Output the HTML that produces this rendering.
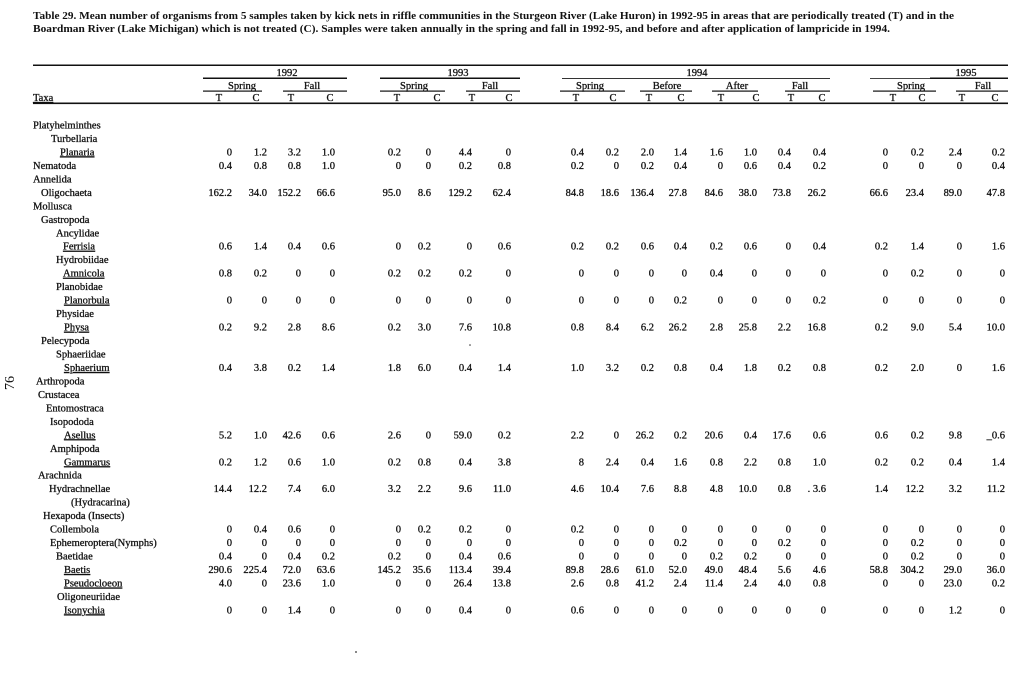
<!DOCTYPE html>
<html><head><meta charset="utf-8"><style>
html,body{margin:0;padding:0;background:#fff;}
svg{display:block;}
text{font-family:"Liberation Serif",serif;fill:#111;}
.b{font-size:10.5px;stroke:#111;stroke-width:0.3px;}
.t{font-size:10.5px;font-weight:bold;}
.u{text-decoration:underline;}
</style></head><body>
<svg width="1020" height="688" viewBox="0 0 1020 688" xmlns="http://www.w3.org/2000/svg">
<rect width="1020" height="688" fill="#fff"/>
<!-- title -->
<text class="t" x="33" y="19" textLength="921" lengthAdjust="spacingAndGlyphs">Table 29.  Mean number of organisms from 5 samples taken by kick nets in riffle communities in the Sturgeon River (Lake Huron) in 1992-95 in areas that are periodically treated (T) and in the</text>
<text class="t" x="33" y="32" textLength="857" lengthAdjust="spacingAndGlyphs">Boardman River (Lake Michigan) which is not treated (C).  Samples were taken annually in the spring and fall in 1992-95, and before and after application of lampricide in 1994.</text>

<!-- rules -->
<rect x="33" y="64.5" width="975" height="1.5" fill="#111"/>
<rect x="33" y="102.5" width="975" height="1.6" fill="#111"/>
<!-- year lines -->
<rect x="203" y="77.5" width="144" height="1.5" fill="#111"/>
<rect x="380" y="77.5" width="140" height="1.5" fill="#111"/>
<rect x="562" y="78" width="268" height="1" fill="#333"/>
<rect x="870" y="78" width="60" height="1" fill="#444"/>
<rect x="930" y="77.5" width="78" height="1.5" fill="#111"/>
<!-- season lines -->
<rect x="203" y="90.5" width="59" height="1.2" fill="#111"/>
<rect x="283" y="90.5" width="64" height="1.2" fill="#111"/>
<rect x="380" y="90.5" width="65" height="1.2" fill="#111"/>
<rect x="466" y="90.5" width="54" height="1.2" fill="#111"/>
<rect x="560" y="90.5" width="65" height="1.2" fill="#111"/>
<rect x="640" y="90.5" width="52" height="1.2" fill="#111"/>
<rect x="712" y="90.5" width="46" height="1.2" fill="#111"/>
<rect x="785" y="90.5" width="45" height="1.2" fill="#111"/>
<rect x="873" y="90.5" width="63" height="1.2" fill="#111"/>
<rect x="956" y="90.5" width="52" height="1.2" fill="#111"/>

<!-- header text -->
<g class="b" text-anchor="middle">
<text y="76"><tspan x="287">1992</tspan><tspan x="458">1993</tspan><tspan x="697">1994</tspan><tspan x="966">1995</tspan></text>
<text y="89"><tspan x="242">Spring</tspan><tspan x="312">Fall</tspan><tspan x="414">Spring</tspan><tspan x="490">Fall</tspan><tspan x="590">Spring</tspan><tspan x="667">Before</tspan><tspan x="737">After</tspan><tspan x="800">Fall</tspan><tspan x="911">Spring</tspan><tspan x="983">Fall</tspan></text>
<text y="101"><tspan x="219">T</tspan><tspan x="256">C</tspan><tspan x="291">T</tspan><tspan x="330">C</tspan><tspan x="397">T</tspan><tspan x="437">C</tspan><tspan x="472">T</tspan><tspan x="509">C</tspan><tspan x="576">T</tspan><tspan x="613">C</tspan><tspan x="649">T</tspan><tspan x="681">C</tspan><tspan x="721">T</tspan><tspan x="756">C</tspan><tspan x="791">T</tspan><tspan x="822">C</tspan><tspan x="893">T</tspan><tspan x="922">C</tspan><tspan x="962">T</tspan><tspan x="995">C</tspan></text>
</g>
<text class="b u" x="33" y="101">Taxa</text>

<!-- page number -->
<text x="14" y="383" font-size="14" text-anchor="middle" transform="rotate(-90 14 383)" style="font-family:'Liberation Serif',serif">76</text>

<!-- taxa names -->
<g class="b">
<text x="33" y="128.5">Platyhelminthes</text>
<text x="51" y="142">Turbellaria</text>
<text x="60" y="155.4" class="u">Planaria</text>
<text x="33" y="168.9">Nematoda</text>
<text x="33" y="182.4">Annelida</text>
<text x="41" y="195.9">Oligochaeta</text>
<text x="33" y="209.3">Mollusca</text>
<text x="41" y="222.8">Gastropoda</text>
<text x="56" y="236.3">Ancylidae</text>
<text x="63" y="249.7" class="u">Ferrisia</text>
<text x="56" y="263.2">Hydrobiidae</text>
<text x="63" y="276.7" class="u">Amnicola</text>
<text x="56" y="290.1">Planobidae</text>
<text x="64" y="303.6" class="u">Planorbula</text>
<text x="56" y="317.1">Physidae</text>
<text x="64" y="330.6" class="u">Physa</text>
<text x="41" y="344">Pelecypoda</text>
<text x="56" y="357.5">Sphaeriidae</text>
<text x="64" y="371" class="u">Sphaerium</text>
<text x="36" y="384.4">Arthropoda</text>
<text x="38" y="397.9">Crustacea</text>
<text x="46" y="411.4">Entomostraca</text>
<text x="50" y="424.8">Isopododa</text>
<text x="64" y="438.3" class="u">Asellus</text>
<text x="50" y="451.8">Amphipoda</text>
<text x="64" y="465.3" class="u">Gammarus</text>
<text x="38" y="478.7">Arachnida</text>
<text x="49" y="492.2">Hydrachnellae</text>
<text x="71" y="505.7">(Hydracarina)</text>
<text x="43" y="519.1">Hexapoda (Insects)</text>
<text x="50" y="532.6">Collembola</text>
<text x="50" y="546.1">Ephemeroptera(Nymphs)</text>
<text x="56" y="559.5">Baetidae</text>
<text x="64" y="573" class="u">Baetis</text>
<text x="64" y="586.5" class="u">Pseudocloeon</text>
<text x="57" y="600">Oligoneuriidae</text>
<text x="64" y="613.4" class="u">Isonychia</text>
</g>

<!-- data -->
<g class="b" text-anchor="end">
<text y="155.4"><tspan x="232">0</tspan><tspan x="267">1.2</tspan><tspan x="301">3.2</tspan><tspan x="335">1.0</tspan><tspan x="401">0.2</tspan><tspan x="431">0</tspan><tspan x="472">4.4</tspan><tspan x="511">0</tspan><tspan x="584">0.4</tspan><tspan x="619">0.2</tspan><tspan x="654">2.0</tspan><tspan x="687">1.4</tspan><tspan x="723">1.6</tspan><tspan x="757">1.0</tspan><tspan x="791">0.4</tspan><tspan x="826">0.4</tspan><tspan x="888">0</tspan><tspan x="924">0.2</tspan><tspan x="962">2.4</tspan><tspan x="1005">0.2</tspan></text>
<text y="168.9"><tspan x="232">0.4</tspan><tspan x="267">0.8</tspan><tspan x="301">0.8</tspan><tspan x="335">1.0</tspan><tspan x="401">0</tspan><tspan x="431">0</tspan><tspan x="472">0.2</tspan><tspan x="511">0.8</tspan><tspan x="584">0.2</tspan><tspan x="619">0</tspan><tspan x="654">0.2</tspan><tspan x="687">0.4</tspan><tspan x="723">0</tspan><tspan x="757">0.6</tspan><tspan x="791">0.4</tspan><tspan x="826">0.2</tspan><tspan x="888">0</tspan><tspan x="924">0</tspan><tspan x="962">0</tspan><tspan x="1005">0.4</tspan></text>
<text y="195.9"><tspan x="232">162.2</tspan><tspan x="267">34.0</tspan><tspan x="301">152.2</tspan><tspan x="335">66.6</tspan><tspan x="401">95.0</tspan><tspan x="431">8.6</tspan><tspan x="472">129.2</tspan><tspan x="511">62.4</tspan><tspan x="584">84.8</tspan><tspan x="619">18.6</tspan><tspan x="654">136.4</tspan><tspan x="687">27.8</tspan><tspan x="723">84.6</tspan><tspan x="757">38.0</tspan><tspan x="791">73.8</tspan><tspan x="826">26.2</tspan><tspan x="888">66.6</tspan><tspan x="924">23.4</tspan><tspan x="962">89.0</tspan><tspan x="1005">47.8</tspan></text>
<text y="249.7"><tspan x="232">0.6</tspan><tspan x="267">1.4</tspan><tspan x="301">0.4</tspan><tspan x="335">0.6</tspan><tspan x="401">0</tspan><tspan x="431">0.2</tspan><tspan x="472">0</tspan><tspan x="511">0.6</tspan><tspan x="584">0.2</tspan><tspan x="619">0.2</tspan><tspan x="654">0.6</tspan><tspan x="687">0.4</tspan><tspan x="723">0.2</tspan><tspan x="757">0.6</tspan><tspan x="791">0</tspan><tspan x="826">0.4</tspan><tspan x="888">0.2</tspan><tspan x="924">1.4</tspan><tspan x="962">0</tspan><tspan x="1005">1.6</tspan></text>
<text y="276.7"><tspan x="232">0.8</tspan><tspan x="267">0.2</tspan><tspan x="301">0</tspan><tspan x="335">0</tspan><tspan x="401">0.2</tspan><tspan x="431">0.2</tspan><tspan x="472">0.2</tspan><tspan x="511">0</tspan><tspan x="584">0</tspan><tspan x="619">0</tspan><tspan x="654">0</tspan><tspan x="687">0</tspan><tspan x="723">0.4</tspan><tspan x="757">0</tspan><tspan x="791">0</tspan><tspan x="826">0</tspan><tspan x="888">0</tspan><tspan x="924">0.2</tspan><tspan x="962">0</tspan><tspan x="1005">0</tspan></text>
<text y="303.6"><tspan x="232">0</tspan><tspan x="267">0</tspan><tspan x="301">0</tspan><tspan x="335">0</tspan><tspan x="401">0</tspan><tspan x="431">0</tspan><tspan x="472">0</tspan><tspan x="511">0</tspan><tspan x="584">0</tspan><tspan x="619">0</tspan><tspan x="654">0</tspan><tspan x="687">0.2</tspan><tspan x="723">0</tspan><tspan x="757">0</tspan><tspan x="791">0</tspan><tspan x="826">0.2</tspan><tspan x="888">0</tspan><tspan x="924">0</tspan><tspan x="962">0</tspan><tspan x="1005">0</tspan></text>
<text y="330.6"><tspan x="232">0.2</tspan><tspan x="267">9.2</tspan><tspan x="301">2.8</tspan><tspan x="335">8.6</tspan><tspan x="401">0.2</tspan><tspan x="431">3.0</tspan><tspan x="472">7.6</tspan><tspan x="511">10.8</tspan><tspan x="584">0.8</tspan><tspan x="619">8.4</tspan><tspan x="654">6.2</tspan><tspan x="687">26.2</tspan><tspan x="723">2.8</tspan><tspan x="757">25.8</tspan><tspan x="791">2.2</tspan><tspan x="826">16.8</tspan><tspan x="888">0.2</tspan><tspan x="924">9.0</tspan><tspan x="962">5.4</tspan><tspan x="1005">10.0</tspan></text>
<text y="371"><tspan x="232">0.4</tspan><tspan x="267">3.8</tspan><tspan x="301">0.2</tspan><tspan x="335">1.4</tspan><tspan x="401">1.8</tspan><tspan x="431">6.0</tspan><tspan x="472">0.4</tspan><tspan x="511">1.4</tspan><tspan x="584">1.0</tspan><tspan x="619">3.2</tspan><tspan x="654">0.2</tspan><tspan x="687">0.8</tspan><tspan x="723">0.4</tspan><tspan x="757">1.8</tspan><tspan x="791">0.2</tspan><tspan x="826">0.8</tspan><tspan x="888">0.2</tspan><tspan x="924">2.0</tspan><tspan x="962">0</tspan><tspan x="1005">1.6</tspan></text>
<text y="438.3"><tspan x="232">5.2</tspan><tspan x="267">1.0</tspan><tspan x="301">42.6</tspan><tspan x="335">0.6</tspan><tspan x="401">2.6</tspan><tspan x="431">0</tspan><tspan x="472">59.0</tspan><tspan x="511">0.2</tspan><tspan x="584">2.2</tspan><tspan x="619">0</tspan><tspan x="654">26.2</tspan><tspan x="687">0.2</tspan><tspan x="723">20.6</tspan><tspan x="757">0.4</tspan><tspan x="791">17.6</tspan><tspan x="826">0.6</tspan><tspan x="888">0.6</tspan><tspan x="924">0.2</tspan><tspan x="962">9.8</tspan><tspan x="1005">_0.6</tspan></text>
<text y="465.3"><tspan x="232">0.2</tspan><tspan x="267">1.2</tspan><tspan x="301">0.6</tspan><tspan x="335">1.0</tspan><tspan x="401">0.2</tspan><tspan x="431">0.8</tspan><tspan x="472">0.4</tspan><tspan x="511">3.8</tspan><tspan x="584">8</tspan><tspan x="619">2.4</tspan><tspan x="654">0.4</tspan><tspan x="687">1.6</tspan><tspan x="723">0.8</tspan><tspan x="757">2.2</tspan><tspan x="791">0.8</tspan><tspan x="826">1.0</tspan><tspan x="888">0.2</tspan><tspan x="924">0.2</tspan><tspan x="962">0.4</tspan><tspan x="1005">1.4</tspan></text>
<text y="492.2"><tspan x="232">14.4</tspan><tspan x="267">12.2</tspan><tspan x="301">7.4</tspan><tspan x="335">6.0</tspan><tspan x="401">3.2</tspan><tspan x="431">2.2</tspan><tspan x="472">9.6</tspan><tspan x="511">11.0</tspan><tspan x="584">4.6</tspan><tspan x="619">10.4</tspan><tspan x="654">7.6</tspan><tspan x="687">8.8</tspan><tspan x="723">4.8</tspan><tspan x="757">10.0</tspan><tspan x="791">0.8</tspan><tspan x="826">. 3.6</tspan><tspan x="888">1.4</tspan><tspan x="924">12.2</tspan><tspan x="962">3.2</tspan><tspan x="1005">11.2</tspan></text>
<text y="532.6"><tspan x="232">0</tspan><tspan x="267">0.4</tspan><tspan x="301">0.6</tspan><tspan x="335">0</tspan><tspan x="401">0</tspan><tspan x="431">0.2</tspan><tspan x="472">0.2</tspan><tspan x="511">0</tspan><tspan x="584">0.2</tspan><tspan x="619">0</tspan><tspan x="654">0</tspan><tspan x="687">0</tspan><tspan x="723">0</tspan><tspan x="757">0</tspan><tspan x="791">0</tspan><tspan x="826">0</tspan><tspan x="888">0</tspan><tspan x="924">0</tspan><tspan x="962">0</tspan><tspan x="1005">0</tspan></text>
<text y="546.1"><tspan x="232">0</tspan><tspan x="267">0</tspan><tspan x="301">0</tspan><tspan x="335">0</tspan><tspan x="401">0</tspan><tspan x="431">0</tspan><tspan x="472">0</tspan><tspan x="511">0</tspan><tspan x="584">0</tspan><tspan x="619">0</tspan><tspan x="654">0</tspan><tspan x="687">0.2</tspan><tspan x="723">0</tspan><tspan x="757">0</tspan><tspan x="791">0.2</tspan><tspan x="826">0</tspan><tspan x="888">0</tspan><tspan x="924">0.2</tspan><tspan x="962">0</tspan><tspan x="1005">0</tspan></text>
<text y="559.5"><tspan x="232">0.4</tspan><tspan x="267">0</tspan><tspan x="301">0.4</tspan><tspan x="335">0.2</tspan><tspan x="401">0.2</tspan><tspan x="431">0</tspan><tspan x="472">0.4</tspan><tspan x="511">0.6</tspan><tspan x="584">0</tspan><tspan x="619">0</tspan><tspan x="654">0</tspan><tspan x="687">0</tspan><tspan x="723">0.2</tspan><tspan x="757">0.2</tspan><tspan x="791">0</tspan><tspan x="826">0</tspan><tspan x="888">0</tspan><tspan x="924">0.2</tspan><tspan x="962">0</tspan><tspan x="1005">0</tspan></text>
<text y="573"><tspan x="232">290.6</tspan><tspan x="267">225.4</tspan><tspan x="301">72.0</tspan><tspan x="335">63.6</tspan><tspan x="401">145.2</tspan><tspan x="431">35.6</tspan><tspan x="472">113.4</tspan><tspan x="511">39.4</tspan><tspan x="584">89.8</tspan><tspan x="619">28.6</tspan><tspan x="654">61.0</tspan><tspan x="687">52.0</tspan><tspan x="723">49.0</tspan><tspan x="757">48.4</tspan><tspan x="791">5.6</tspan><tspan x="826">4.6</tspan><tspan x="888">58.8</tspan><tspan x="924">304.2</tspan><tspan x="962">29.0</tspan><tspan x="1005">36.0</tspan></text>
<text y="586.5"><tspan x="232">4.0</tspan><tspan x="267">0</tspan><tspan x="301">23.6</tspan><tspan x="335">1.0</tspan><tspan x="401">0</tspan><tspan x="431">0</tspan><tspan x="472">26.4</tspan><tspan x="511">13.8</tspan><tspan x="584">2.6</tspan><tspan x="619">0.8</tspan><tspan x="654">41.2</tspan><tspan x="687">2.4</tspan><tspan x="723">11.4</tspan><tspan x="757">2.4</tspan><tspan x="791">4.0</tspan><tspan x="826">0.8</tspan><tspan x="888">0</tspan><tspan x="924">0</tspan><tspan x="962">23.0</tspan><tspan x="1005">0.2</tspan></text>
<text y="613.4"><tspan x="232">0</tspan><tspan x="267">0</tspan><tspan x="301">1.4</tspan><tspan x="335">0</tspan><tspan x="401">0</tspan><tspan x="431">0</tspan><tspan x="472">0.4</tspan><tspan x="511">0</tspan><tspan x="584">0.6</tspan><tspan x="619">0</tspan><tspan x="654">0</tspan><tspan x="687">0</tspan><tspan x="723">0</tspan><tspan x="757">0</tspan><tspan x="791">0</tspan><tspan x="826">0</tspan><tspan x="888">0</tspan><tspan x="924">0</tspan><tspan x="962">1.2</tspan><tspan x="1005">0</tspan></text>
</g>

<!-- specks -->
<circle cx="470" cy="345" r="0.8" fill="#333"/>
<circle cx="356" cy="652" r="0.9" fill="#333"/>
</svg>
</body></html>
